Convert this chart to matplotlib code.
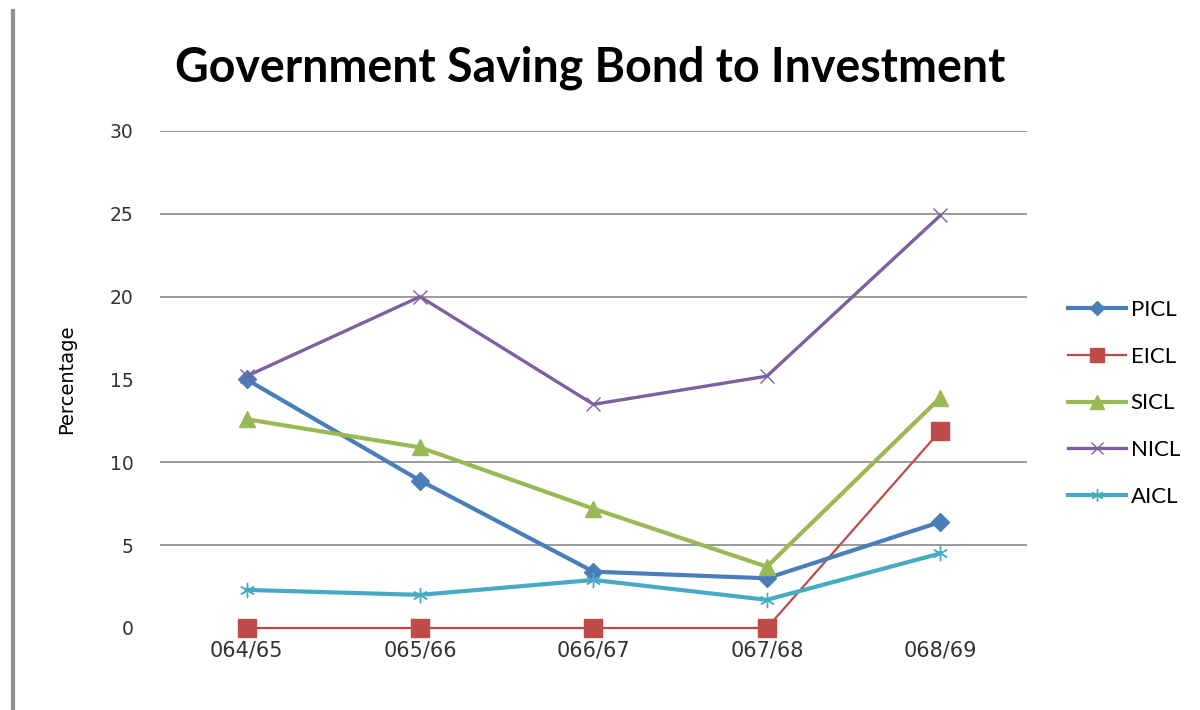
import matplotlib
matplotlib.use("Agg")
import matplotlib.pyplot as plt
from matplotlib.lines import Line2D

# data
years = ["064/65", "065/66", "066/67", "067/68", "068/69"]
picl = [15.0, 8.9, 3.4, 3.0, 6.4]
eicl = [0, 0, 0, 0, 11.9]
sicl = [12.6, 10.9, 7.2, 3.7, 13.9]
nicl = [15.2, 20.0, 13.5, 15.2, 24.9]
aicl = [2.3, 2.0, 2.9, 1.7, 4.5]
grid_levels = [5, 10, 20, 25, 30]

plt.rcParams['font.family'] = ['Lato', 'DejaVu Sans']

fig = plt.figure(figsize=(12, 7.1), dpi=100)
ax = fig.add_axes([0.1333, 0.1155, 0.7225, 0.70])

x = list(range(len(years)))

# gridlines (the reference has no line at 15)
for g in grid_levels:
    ax.axhline(g, color='#8a8a8a', lw=1.2, zorder=0)

ax.plot(x, eicl, color='#BE4B48', lw=1.6, marker='s', ms=13,
        label='EICL', clip_on=False, zorder=3)
ax.plot(x, picl, color='#4A7EBB', lw=3, marker='D', ms=9,
        label='PICL', clip_on=False, zorder=4)
ax.plot(x, sicl, color='#98B954', lw=3, marker='^', ms=12,
        label='SICL', clip_on=False, zorder=4)
ax.plot(x, nicl, color='#7D60A0', lw=2.4, marker='x', ms=10, mew=1,
        label='NICL', clip_on=False, zorder=4)
ax.plot(x, aicl, color='#46AAC5', lw=3, marker=(6, 2, 0), ms=11, mew=1,
        label='AICL', clip_on=False, zorder=4)

ax.set_xlim(-0.5, len(years) - 0.5)
ax.set_ylim(0, 30)
ax.set_xticks(x)
ax.set_xticklabels(years, fontsize=15, color='#333333', family='DejaVu Sans')
ax.set_yticks(range(0, 31, 5))
ax.set_yticklabels([str(v) for v in range(0, 31, 5)], fontsize=13.5,
                   color='#333333', family='DejaVu Sans')
ax.tick_params(axis='both', length=0)
ax.tick_params(axis='y', pad=19)
ax.tick_params(axis='x', pad=9)
for s in ax.spines.values():
    s.set_visible(False)

ax.set_ylabel('Percentage', fontsize=14, family='DejaVu Sans')
ax.yaxis.set_label_coords(-0.097, 0.5)

fig.text(0.492, 0.904, 'Government Saving Bond to Investment',
         fontsize=33.5, fontweight='bold', ha='center', va='center')

handles, labels = ax.get_legend_handles_labels()
order = ['PICL', 'EICL', 'SICL', 'NICL', 'AICL']
hmap = dict(zip(labels, handles))
fig.legend([hmap[k] for k in order], order, loc='upper left',
           bbox_to_anchor=(0.883, 0.59), frameon=False, fontsize=16,
           handlelength=2.6, handletextpad=0.2, labelspacing=1.2,
           borderaxespad=0, markerscale=0.8)

# grey bar on the left edge
fig.add_artist(Line2D([0.011, 0.011], [0.0, 0.985], color='#909090', lw=3,
                      transform=fig.transFigure))

fig.savefig('out.png', dpi=100)
